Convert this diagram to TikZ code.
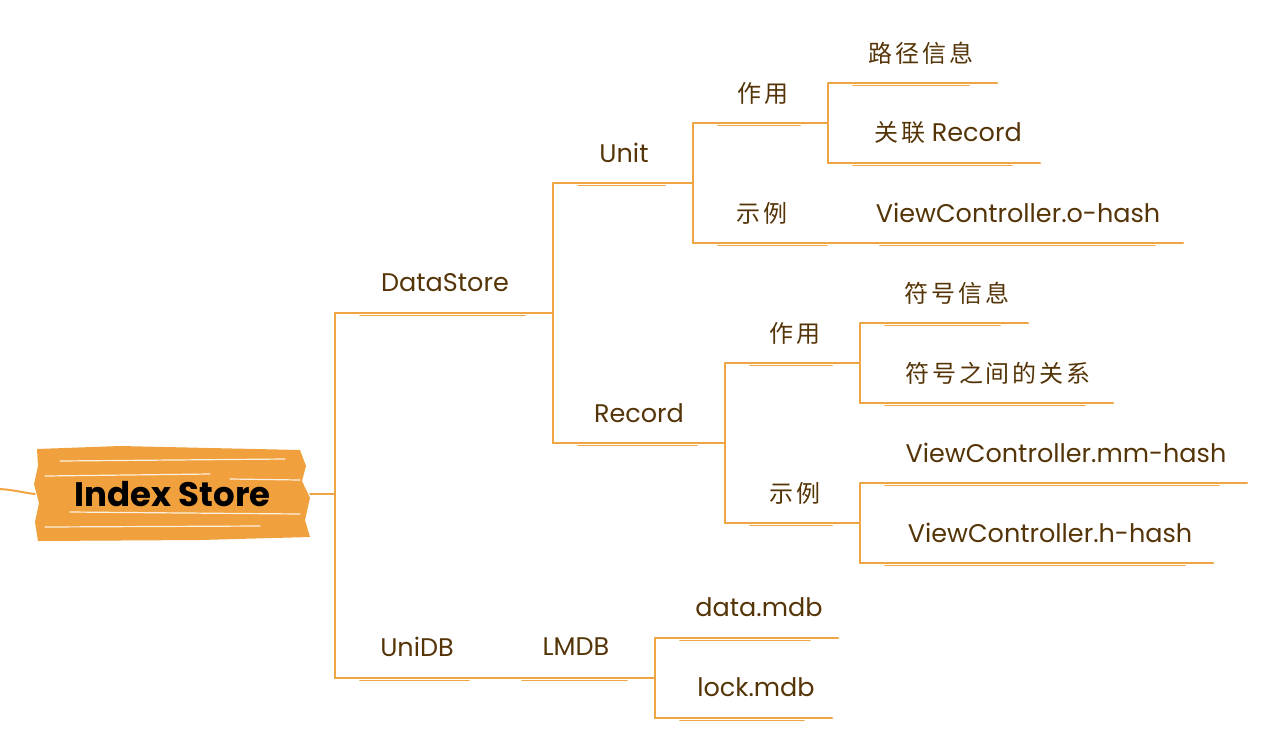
\documentclass[tikz,border=0pt]{standalone}
\usepackage{fontspec}
\setmainfont{Poppins}
\newfontfamily\cjk[LetterSpace=12]{Noto Sans CJK SC}
\definecolor{lineor}{HTML}{EFA544}
\definecolor{txt}{HTML}{553508}
\definecolor{rootor}{HTML}{F0A03C}
\tikzset{
  lbl/.style={text=txt, font=\fontsize{25.5}{28}\selectfont, inner sep=0pt, anchor=center},
  br/.style={draw=lineor, line width=2pt, line cap=round, line join=round},
  brs/.style={draw=lineor, line width=1.6pt, line cap=round},
  streak/.style={draw=white, line width=1.2pt, opacity=0.85, line cap=round}
}
\newcommand{\cj}[1]{{\cjk\fontsize{24}{28}\selectfont #1}}
\newcommand{\uline}[2]{%
  \draw[br] (#1) -- (#2);
  \draw[brs] ([xshift=25pt,yshift=-2.6pt]#1) -- ([xshift=-28pt,yshift=-2.6pt]#2);}
\begin{document}
\begin{tikzpicture}[x=1pt,y=-1pt]
\useasboundingbox (0,0) rectangle (1272,740);
% root shape
\fill[rootor] (37,449) -- (120,446) -- (300,450) -- (306,466) -- (302,481) -- (310,498) -- (305,520) -- (310,537) -- (200,540) -- (38,541) -- (35,522) -- (39,503) -- (34,484) -- (38,466) -- cycle;
\draw[streak] (60,461) -- (285,459);
\draw[streak] (45,476) -- (210,474);
\draw[streak] (230,479) -- (300,480);
\draw[streak] (70,512) -- (300,514);
\draw[streak] (45,527) -- (260,526);
\node[minimum width=275pt, minimum height=92pt, inner sep=0pt, font=\bfseries\fontsize{34}{38}\selectfont] (root) at (172.5,494) {Index Store};
\coordinate (in) at (0,489);
\draw[br] (in) .. controls (15,490) and (25,493) .. (root.west);
% coordinates
\coordinate (j0) at (335,494);
\coordinate (ds-a) at (335,313); \coordinate (ds-b) at (553,313);
\coordinate (un-a) at (553,183); \coordinate (un-b) at (693,183);
\coordinate (rc-a) at (553,443); \coordinate (rc-b) at (725,443);
\coordinate (uz-a) at (693,123); \coordinate (uz-b) at (828,123);
\coordinate (lj-a) at (828,83);  \coordinate (lj-b) at (997,83);
\coordinate (gl-a) at (828,163); \coordinate (gl-b) at (1040,163);
\coordinate (us-a) at (693,243); \coordinate (us-b) at (855,243);
\coordinate (vo-a) at (855,243); \coordinate (vo-b) at (1183,243);
\coordinate (rz-a) at (725,363); \coordinate (rz-b) at (860,363);
\coordinate (fx-a) at (860,323); \coordinate (fx-b) at (1028,323);
\coordinate (fg-a) at (860,403); \coordinate (fg-b) at (1113,403);
\coordinate (rs-a) at (725,523); \coordinate (rs-b) at (860,523);
\coordinate (vm-a) at (860,483); \coordinate (vm-b) at (1247,483);
\coordinate (vh-a) at (860,563); \coordinate (vh-b) at (1213,563);
\coordinate (ud-a) at (335,678); \coordinate (ud-b) at (497,678);
\coordinate (lm-a) at (497,678); \coordinate (lm-b) at (655,678);
\coordinate (dm-a) at (655,638); \coordinate (dm-b) at (838,638);
\coordinate (lk-a) at (655,718); \coordinate (lk-b) at (832,718);
% labels
\node[lbl] (ds) at (445,283) {DataStore};
\node[lbl] (un) at (624,153) {Unit};
\node[lbl] (rc) at (639,413) {Record};
\node[lbl] (uz) at (763,93) {\cj{作用}};
\node[lbl] (lj) at (921,53) {\cj{路径信息}};
\node[lbl] (gl) at (948,133) {\cj{关联} Record};
\node[lbl] (us) at (762,213) {\cj{示例}};
\node[lbl] (vo) at (1018,213) {ViewController.o-hash};
\node[lbl] (rz) at (795,333) {\cj{作用}};
\node[lbl] (fx) at (957,293) {\cj{符号信息}};
\node[lbl] (fg) at (998,373) {\cj{符号之间的关系}};
\node[lbl] (rs) at (795,493) {\cj{示例}};
\node[lbl] (vm) at (1066,453) {ViewController.mm-hash};
\node[lbl] (vh) at (1050,533) {ViewController.h-hash};
\node[lbl] (ud) at (417,647) {UniDB};
\node[lbl] (lm) at (576,647) {LMDB};
\node[lbl] (dm) at (759,607) {data.mdb};
\node[lbl] (lk) at (756,687) {lock.mdb};
% connectors
\draw[br] (root.east) -- (j0);
\draw[br] (ds-a) -- (ud-a);
\draw[br] (un-a) -- (rc-a);
\draw[br] (uz-a) -- (us-a);
\draw[br] (lj-a) -- (gl-a);
\draw[br] (rz-a) -- (rs-a);
\draw[br] (fx-a) -- (fg-a);
\draw[br] (vm-a) -- (vh-a);
\draw[br] (dm-a) -- (lk-a);
\uline{ds-a}{ds-b}
\uline{un-a}{un-b}
\uline{rc-a}{rc-b}
\uline{uz-a}{uz-b}
\uline{lj-a}{lj-b}
\uline{gl-a}{gl-b}
\uline{us-a}{us-b}
\uline{vo-a}{vo-b}
\uline{rz-a}{rz-b}
\uline{fx-a}{fx-b}
\uline{fg-a}{fg-b}
\uline{rs-a}{rs-b}
\uline{vm-a}{vm-b}
\uline{vh-a}{vh-b}
\uline{ud-a}{ud-b}
\uline{lm-a}{lm-b}
\uline{dm-a}{dm-b}
\uline{lk-a}{lk-b}
\end{tikzpicture}
\end{document}
